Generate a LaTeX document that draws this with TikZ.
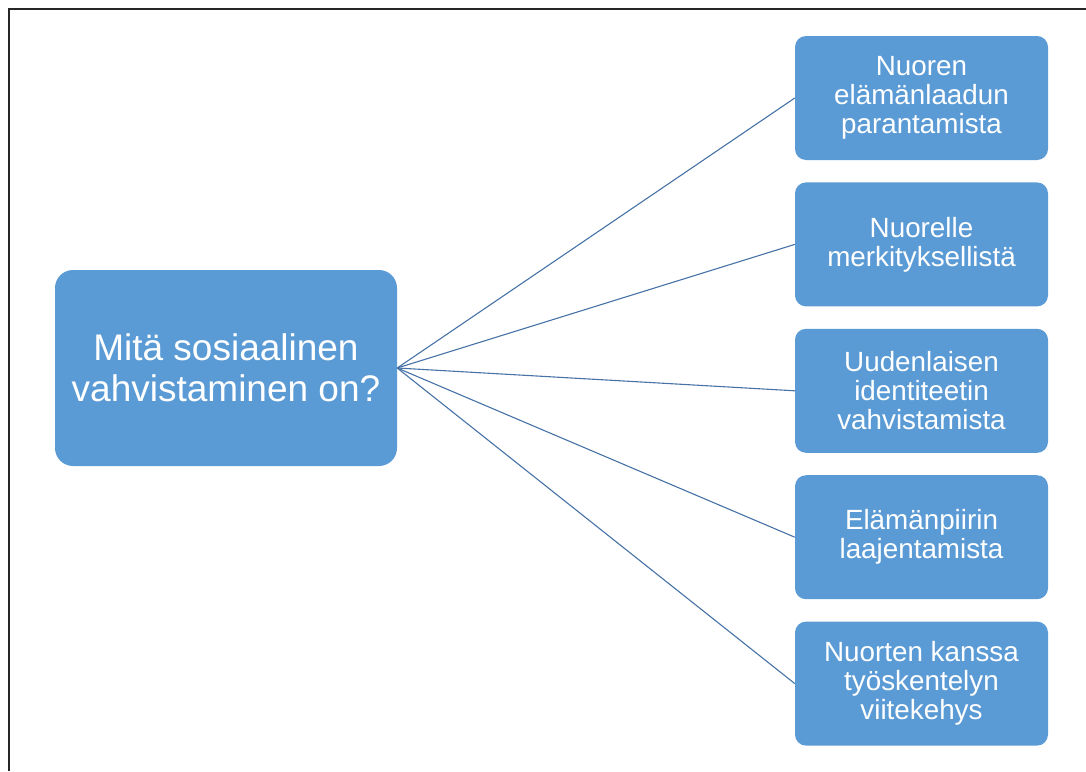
\documentclass[tikz,border=0pt]{standalone}
\usepackage{fontspec}
\setmainfont{Liberation Sans}
\usetikzlibrary{positioning}
\definecolor{boxblue}{RGB}{91,155,213}
\definecolor{linkblue}{RGB}{70,114,166}

\begin{document}
\begin{tikzpicture}[x=1pt,y=-1pt,
    mainbox/.style={fill=boxblue,text=white,rounded corners=18pt,minimum width=342pt,minimum height=196pt,align=center,font=\fontsize{37pt}{41pt}\selectfont},
    itembox/.style={fill=boxblue,text=white,rounded corners=11pt,minimum width=253pt,minimum height=124pt,align=center,inner sep=2pt,font=\fontsize{27.8pt}{29pt}\selectfont},
    link/.style={draw=linkblue,line width=1.1pt},
    node distance = 22pt]
  \useasboundingbox (0,0) rectangle (1086,771);
  \draw[line width=2.2pt,black!85] (9,771) -- (9,9) -- (1086,9);
  \node[mainbox](q) at (226,368) {Mitä sosiaalinen\\vahvistaminen on?};
  \node[itembox](a) at (921.5,98) {Nuoren\\elämänlaadun\\parantamista};
  \node[itembox](b) [below = of a] {Nuorelle\\merkityksellistä};
  \node[itembox](c) [below = of b] {Uudenlaisen\\identiteetin\\vahvistamista};
  \node[itembox](d) [below = of c] {Elämänpiirin\\laajentamista};
  \node[itembox](e) [below = of d] {Nuorten kanssa\\työskentelyn\\viitekehys};
  \foreach \t in {a,b,c,d,e}
    \draw[link] (q.east) -- (\t.west);
\end{tikzpicture}
\end{document}
